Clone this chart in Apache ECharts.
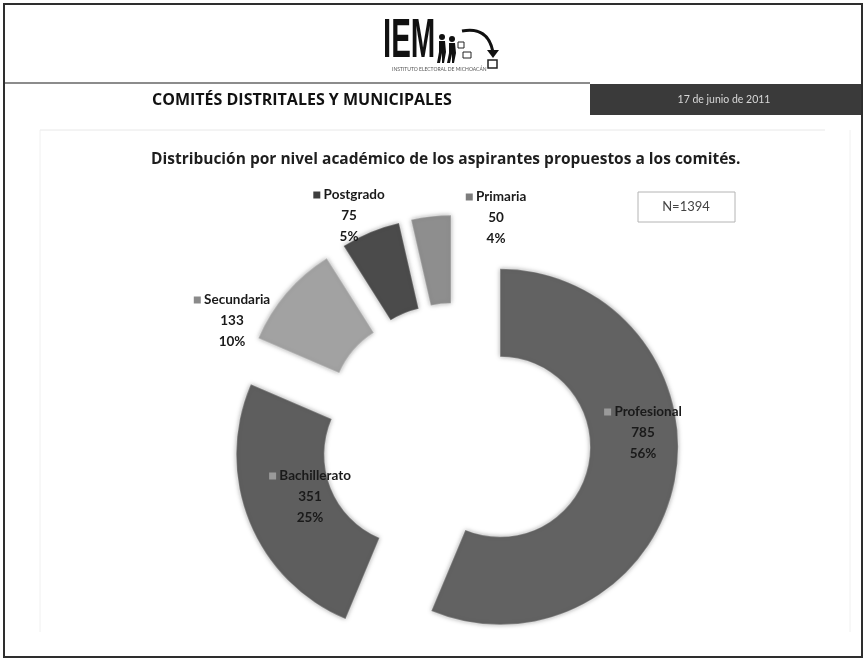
<!DOCTYPE html>
<html>
<head>
<meta charset="utf-8">
<script src="https://cdn.jsdelivr.net/npm/echarts@6/dist/echarts.min.js"></script>
<style>
html,body{margin:0;padding:0;background:#fff;}
#chart{width:867px;height:665px;}
</style>
</head>
<body>
<div id="chart"></div>
<script>
// ---- data ----
const categories = ['Profesional', 'Bachillerato', 'Secundaria', 'Postgrado', 'Primaria'];
const values = [785, 351, 133, 75, 50];
const sliceColors = ['#626262', '#5e5e5e', '#a2a2a2', '#4b4b4b', '#8e8e8e'];
const markerColors = ['#9a9a9a', '#9a9a9a', '#8a8a8a', '#3e3e3e', '#7d7d7d'];
const labelPos = [[643, 433], [310, 497], [232, 321], [349, 216], [496, 218]];
const headerTitle = 'COMITÉS DISTRITALES Y MUNICIPALES';
const dateText = '17 de junio de 2011';
const chartTitle = 'Distribución por nivel académico de los aspirantes propuestos a los comités.';
const nText = 'N=1394';

const chart = echarts.init(document.getElementById('chart'), null, {renderer: 'canvas'});
const FONT = 'Lato';

const rich = {
  v: {fontFamily: FONT, fontWeight: 'bold', fontSize: 13.5, color: '#1a1a1a', lineHeight: 21, align: 'center'}
};
categories.forEach((c, i) => {
  rich['m' + i] = {width: 7, height: 7, backgroundColor: markerColors[i]};
});

const sliceItems = categories.map((c, i) => ({
  name: c,
  value: values[i],
  selected: true,
  itemStyle: {color: sliceColors[i]}
}));
const labelItems = categories.map((c, i) => ({name: c, value: values[i]}));

const PIE_CENTER = [456, 438];
const PIE_RADIUS = [90, 178];

const option = {
  animation: false,
  title: {
    text: chartTitle,
    left: 146,
    top: 147,
    textStyle: {fontFamily: 'Open Sans', fontWeight: 'bold', fontSize: 15.5, color: '#1e1e1e'}
  },
  graphic: [
    {type: 'rect', shape: {x: 4, y: 4, width: 858, height: 653}, style: {fill: 'none', stroke: '#2e2e2e', lineWidth: 2}},
    {type: 'line', shape: {x1: 5, y1: 83, x2: 590, y2: 83}, style: {stroke: '#8c8c8c', lineWidth: 2}},
    {type: 'rect', shape: {x: 590, y: 84, width: 271, height: 31}, style: {fill: '#3a3a3a'}},
    {type: 'text', x: 724, y: 100, style: {text: dateText, fill: '#d8d8d8', font: '10.5px ' + FONT, align: 'center', verticalAlign: 'middle'}},
    {type: 'text', x: 152, y: 100, style: {text: headerTitle, fill: '#111', font: 'bold 16px "Open Sans"', align: 'left', verticalAlign: 'middle'}},
    {type: 'line', shape: {x1: 40, y1: 130, x2: 825, y2: 130}, style: {stroke: '#e8e8e8', lineWidth: 1}},
    {type: 'line', shape: {x1: 40, y1: 130, x2: 40, y2: 632}, style: {stroke: '#f0f0f0', lineWidth: 1}},
    {type: 'line', shape: {x1: 850, y1: 130, x2: 850, y2: 632}, style: {stroke: '#f0f0f0', lineWidth: 1}},
    {type: 'rect', shape: {x: 638, y: 192, width: 97, height: 30}, style: {fill: '#fff', stroke: '#b4b4b4', lineWidth: 1}},
    {type: 'text', x: 686, y: 207, style: {text: nText, fill: '#444', font: '13px ' + FONT, align: 'center', verticalAlign: 'middle'}},
    // logo
    {type: 'text', x: 383, y: 42, scaleX: 0.525, style: {text: 'IEM', fill: '#111', font: 'bold 56px "Liberation Sans"', align: 'left', verticalAlign: 'middle'}},
    {type: 'circle', shape: {cx: 442, cy: 37, r: 3}, style: {fill: '#111'}},
    {type: 'polygon', shape: {points: [[439, 41], [445, 41], [446, 52], [444, 63], [442, 63], [442, 53], [440, 63], [437, 63], [439, 52]]}, style: {fill: '#111'}},
    {type: 'circle', shape: {cx: 452, cy: 39, r: 3}, style: {fill: '#111'}},
    {type: 'polygon', shape: {points: [[449, 43], [455, 43], [456, 53], [454, 63], [452, 63], [452, 54], [450, 63], [447, 63], [449, 53]]}, style: {fill: '#111'}},
    {type: 'rect', shape: {x: 458, y: 42, width: 6, height: 6}, style: {fill: 'none', stroke: '#222', lineWidth: 1}},
    {type: 'rect', shape: {x: 463, y: 52, width: 8, height: 6}, style: {fill: 'none', stroke: '#222', lineWidth: 1}},
    {type: 'bezierCurve', shape: {x1: 462, y1: 31, x2: 493, y2: 52, cpx1: 488, cpy1: 26}, style: {stroke: '#111', lineWidth: 3, fill: 'none'}},
    {type: 'polygon', shape: {points: [[487, 50], [499, 50], [493, 58]]}, style: {fill: '#111'}},
    {type: 'rect', shape: {x: 488, y: 60, width: 9, height: 8}, style: {fill: 'none', stroke: '#222', lineWidth: 1.5}},
    {type: 'text', x: 392, y: 69, style: {text: 'INSTITUTO ELECTORAL DE MICHOACÁN', fill: '#555', font: '5px ' + FONT, align: 'left', verticalAlign: 'middle'}}
  ],
  series: [{
    type: 'pie',
    center: PIE_CENTER,
    radius: PIE_RADIUS,
    startAngle: 90,
    clockwise: true,
    selectedMode: 'multiple',
    selectedOffset: 45,
    emphasis: {disabled: true},
    itemStyle: {shadowBlur: 5, shadowColor: 'rgba(0,0,0,0.35)', borderColor: 'rgba(255,255,255,0.2)', borderWidth: 1.5},
    label: {show: false},
    labelLine: {show: false},
    data: sliceItems
  }, {
    type: 'pie',
    center: PIE_CENTER,
    radius: PIE_RADIUS,
    startAngle: 90,
    clockwise: true,
    silent: true,
    z: 5,
    avoidLabelOverlap: false,
    percentPrecision: 0,
    emphasis: {disabled: true},
    itemStyle: {color: 'rgba(0,0,0,0)'},
    label: {
      show: true,
      position: 'outside',
      formatter: function (p) {
        return '{m' + p.dataIndex + '|} {v|' + p.name + '}\n{v|' + p.value + '}\n{v|' + p.percent + '%}';
      },
      rich: rich,
      fontFamily: FONT,
      fontWeight: 'bold',
      fontSize: 13.5,
      color: '#1a1a1a',
      lineHeight: 21
    },
    labelLine: {show: false},
    labelLayout: function (params) {
      const p = labelPos[params.dataIndex];
      return {x: p[0], y: p[1], align: 'center', verticalAlign: 'middle'};
    },
    data: labelItems
  }]
};
chart.setOption(option);
</script>
</body>
</html>
